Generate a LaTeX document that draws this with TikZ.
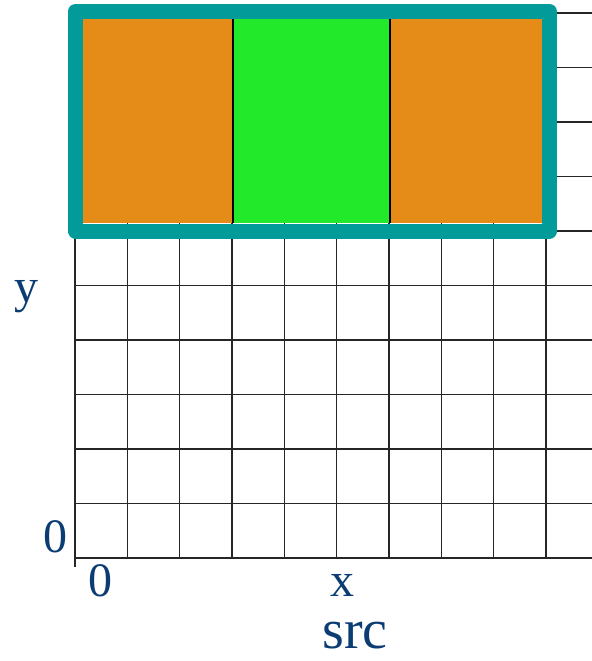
\documentclass[tikz,border=0pt]{standalone}
\usepackage{fontspec}
\setmainfont{Liberation Serif}
\definecolor{cellorange}{HTML}{E58B17}
\definecolor{cellgreen}{HTML}{22EA2B}
\definecolor{frameteal}{HTML}{039A9A}
\definecolor{labelblue}{HTML}{0B3D73}

\begin{document}
\begin{tikzpicture}[
    x=0.5pt, y=0.5pt,
    gridline/.style = {draw=black!85, line width=0.65pt},
    axislabel/.style = {text=labelblue, font=\fontsize{24}{26}\selectfont, inner sep=0pt, anchor=base},
    titlelabel/.style = {text=labelblue, font=\fontsize{28}{30}\selectfont, inner sep=0pt, anchor=base},
    cellsep/.style = {draw=black, line width=0.6pt},
    frame/.style = {draw=frameteal, line width=7.5pt, line join=round}]

    \useasboundingbox (0,0) rectangle (592,661);

    % grid
    \foreach \j in {0,...,10}
        \draw[gridline] (75,{103+54.5*\j}) -- (592,{103+54.5*\j});
    \foreach \i in {1,...,9}
        \draw[gridline] ({75+52.33*\i},103) -- ({75+52.33*\i},648);
    \draw[gridline] (75,94) -- (75,648);

    % highlighted row
    \fill[cellorange] (83,438) rectangle (233,642);
    \fill[cellgreen] (233,438) rectangle (390,642);
    \fill[cellorange] (390,438) rectangle (542,642);
    \draw[cellsep] (233,438) -- (233,642);
    \draw[cellsep] (390,438) -- (390,642);
    \draw[frame] (75.5,430) rectangle (549.5,649.5);

    % labels
    \node[axislabel] (ylabel) at (27,358) {y};
    \node[axislabel] (yzero) at (56,109) {0};
    \node[axislabel] (xzero) at (101,64) {0};
    \node[axislabel] (xlabel) at (343,65) {x};
    \node[titlelabel] (srclabel) at (355,12) {src};
\end{tikzpicture}
\end{document}
